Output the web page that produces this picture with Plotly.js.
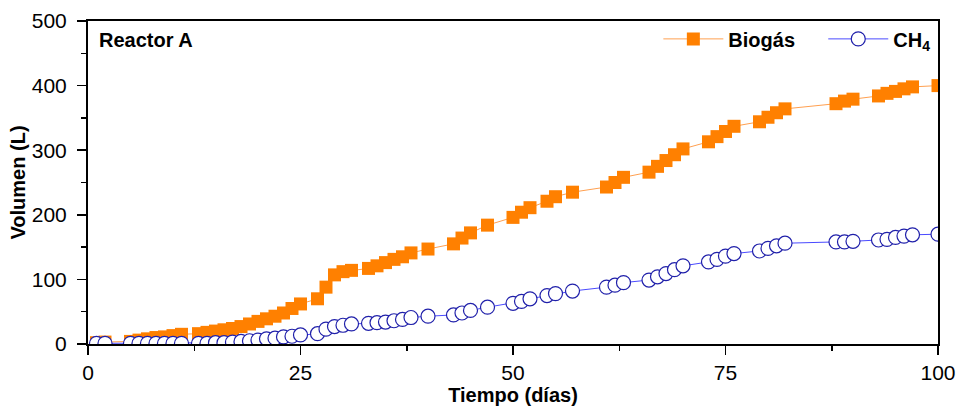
<!DOCTYPE html>
<html>
<head>
<meta charset="utf-8">
<script src="https://cdn.plot.ly/plotly-3.0.1.min.js"></script>
<style>html,body{margin:0;padding:0;background:#fff;}#chart{width:959px;height:412px;}</style>
</head>
<body>
<div id="chart"></div>
<script>
const days = [1,2,5,6,7,8,9,10,11,13,14,15,16,17,18,19,20,21,22,23,24,25,27,28,29,30,31,33,34,35,36,37,38,40,43,44,45,47,50,51,52,54,55,57,61,62,63,66,67,68,69,70,73,74,75,76,79,80,81,82,88,89,90,93,94,95,96,97,100];
const biogas = [2,3,4,6,8,10,11,13,15,16,18,20,22,24,27,31,35,39,43,48,55,62,70,88,107,112,114,117,121,126,131,135,141,147,155,164,172,184,196,204,211,221,228,235,243,250,258,266,275,284,293,302,313,321,329,337,344,351,358,364,372,376,379,384,388,391,395,398,400];
const ch4 = [1,1,1,1,1,1,1,1,1,1,1,2,2,3,4,5,6,8,9,11,12,14,16,23,27,29,31,32,33,34,36,38,41,43,45,48,52,57,63,66,70,75,78,82,88,91,95,99,104,109,115,121,127,131,136,140,144,148,152,156,158,158,159,161,162,165,167,169,170];
const seriesNames = ['Biogás', 'CH<sub>4</sub>'];
const xTitle = 'Tiempo (días)';
const yTitle = 'Volumen (L)';
const panelLabel = 'Reactor A';

const fam = "'Liberation Sans', Arial, sans-serif";

const traces = [
  {x: days, y: biogas, name: seriesNames[0], type: 'scatter', mode: 'lines+markers', legend: 'legend',
   line: {color: '#ffa050', width: 1},
   marker: {symbol: 'square', size: 13, color: '#ff8000', line: {width: 0}}},
  {x: days, y: ch4, name: seriesNames[1], type: 'scatter', mode: 'lines+markers', legend: 'legend2',
   line: {color: '#4a4aff', width: 1},
   marker: {symbol: 'circle', size: 14, color: '#ffffff', line: {color: '#2020aa', width: 1.2}}}
];

const axisCommon = {
  showline: true, linecolor: '#000', linewidth: 2, mirror: true,
  ticks: 'outside', ticklen: 9, tickwidth: 1.5, tickcolor: '#000',
  showgrid: false, zeroline: false,
  tickfont: {family: fam, size: 21, color: '#000'}
};

const legendCommon = {
  orientation: 'h', xanchor: 'left', y: 1.005, yanchor: 'top',
  bgcolor: 'rgba(0,0,0,0)', itemwidth: 60,
  font: {family: fam, size: 20, color: '#000', weight: 'bold'}
};

const layout = {
  width: 959, height: 412,
  margin: {l: 88, r: 21, t: 21, b: 68},
  paper_bgcolor: '#fff', plot_bgcolor: '#fff',
  showlegend: true,
  xaxis: Object.assign({}, axisCommon, {
    range: [0, 100], tickvals: [0, 25, 50, 75, 100],
    minor: {dtick: 12.5, ticks: 'outside', ticklen: 5, tickwidth: 1.5, tickcolor: '#000', showgrid: false},
    title: {text: '<b>' + xTitle + '</b>', font: {family: fam, size: 20, color: '#000'}, standoff: 0}
  }),
  yaxis: Object.assign({}, axisCommon, {
    range: [0, 500], dtick: 100, ticklabelstandoff: 6,
    minor: {dtick: 50, ticks: 'outside', ticklen: 5, tickwidth: 1.5, tickcolor: '#000', showgrid: false},
    title: {text: '<b>' + yTitle + '</b>', font: {family: fam, size: 20, color: '#000'}, standoff: 1}
  }),
  legend: Object.assign({}, legendCommon, {x: 0.671}),
  legend2: Object.assign({}, legendCommon, {x: 0.865}),
  annotations: [{
    text: '<b>' + panelLabel + '</b>', xref: 'paper', yref: 'paper',
    x: 0.01, xanchor: 'left', y: 0.94, yanchor: 'middle', showarrow: false,
    font: {family: fam, size: 20, color: '#000'}
  }]
};

Plotly.newPlot('chart', traces, layout, {staticPlot: true, displayModeBar: false});
</script>
</body>
</html>
